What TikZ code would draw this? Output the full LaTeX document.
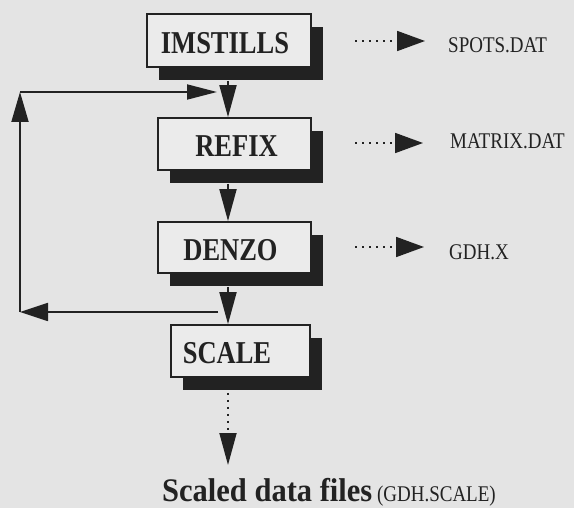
\documentclass[tikz,border=0pt]{standalone}
\usepackage{fontspec}
\usepackage{graphicx}
\setmainfont{Liberation Serif}
\usetikzlibrary{arrows.meta,shadows,calc}
\definecolor{bg}{HTML}{E4E4E4}
\definecolor{boxfill}{HTML}{EBEBEB}
\definecolor{ink}{HTML}{222222}
\newcommand\boxlabel[2]{\makebox[0pt]{\hspace*{#1}\raisebox{-13pt}[0pt][0pt]{\scalebox{1}[1.2]{#2}}}}
\newcommand\tall[1]{\scalebox{1}[1.18]{#1}}
\begin{document}
\begin{tikzpicture}[x=1pt,y=-1pt,
  prog/.style={rectangle,draw=ink,line width=1.7pt,fill=boxfill,inner sep=0pt,
    text=ink,font=\bfseries\fontsize{26.5}{28}\selectfont,
    drop shadow={shadow xshift=12pt,shadow yshift=-13pt,fill=ink,opacity=1}},
  flow/.style={draw=ink,line width=1.8pt,-{Triangle[length=32pt,width=17pt]}},
  fbl/.style={draw=ink,line width=1.8pt,-{Triangle[length=28pt,width=18pt]}},
  fbu/.style={draw=ink,line width=1.8pt,-{Triangle[length=30pt,width=17pt]}},
  fbr/.style={draw=ink,line width=1.8pt,-{Triangle[length=30pt,width=15pt]}},
  dotarr/.style={draw=ink,line width=1.8pt,dash pattern=on 1.8pt off 5.2pt,
    -{Triangle[length=28pt,width=20pt]}},
  dotdown/.style={draw=ink,line width=1.8pt,dash pattern=on 1.8pt off 5.2pt,
    -{Triangle[length=32pt,width=17pt]}},
  lbl/.style={anchor=base west,inner sep=0pt,text=ink,font=\fontsize{19}{20}\selectfont}]
\fill[bg] (0,0) rectangle (574,508);
\useasboundingbox (0,0) rectangle (574,508);

% program boxes
\node[prog,minimum width=164pt,minimum height=53pt] (imstills) at (229,40.5) {\boxlabel{-8pt}{IMSTILLS}};
\node[prog,minimum width=153pt,minimum height=52pt] (refix) at (234.5,144) {\boxlabel{4pt}{REFIX}};
\node[prog,minimum width=153pt,minimum height=51pt] (denzo) at (234.5,247.5) {\boxlabel{-8pt}{DENZO}};
\node[prog,minimum width=139pt,minimum height=52pt] (scale) at (240.5,351) {\boxlabel{-27pt}{SCALE}};

% output files
\node[lbl] (spots) at (448,53) {\tall{SPOTS.DAT}};
\node[lbl] (matrix) at (450,149) {\tall{MATRIX.DAT}};
\node[lbl] (gdhx) at (449,260) {\tall{GDH.X}};
\node[anchor=base west,inner sep=0pt,text=ink] (result) at (162,501)
  {{\bfseries\fontsize{30.5}{32}\selectfont\scalebox{1}[1.08]{Scaled data files}}{\fontsize{19}{20}\selectfont\ \tall{(GDH.SCALE)}}};

% main flow
\coordinate (ax) at (228,0);
\draw[flow] ($(imstills.south -| ax)+(0,13)$) -- (refix.north -| ax);
\draw[flow] ($(refix.south -| ax)+(0,13)$) -- (denzo.north -| ax);
\draw[flow] ($(denzo.south -| ax)+(0,13)$) -- (scale.north -| ax);
\coordinate (dend) at (228,465);
\draw[dotdown] ($(scale.south -| ax)+(0,15)$) -- (dend);

% feedback loop
\coordinate (fb1) at (218,312);
\coordinate (fb2) at (20,312);
\coordinate (fb3) at (20,92);
\coordinate (fb4) at (217,92);
\draw[fbl] (fb1) -- (fb2);
\draw[fbu] (fb2) -- (fb3);
\draw[fbr] (fb3) -- (fb4);

% dotted outputs
\coordinate (s1) at (355,41);  \coordinate (e1) at (425,41);
\coordinate (s2) at (355,143); \coordinate (e2) at (423,143);
\coordinate (s3) at (355,247); \coordinate (e3) at (424,247);
\draw[dotarr] (s1) -- (e1);
\draw[dotarr] (s2) -- (e2);
\draw[dotarr] (s3) -- (e3);
\end{tikzpicture}
\end{document}
